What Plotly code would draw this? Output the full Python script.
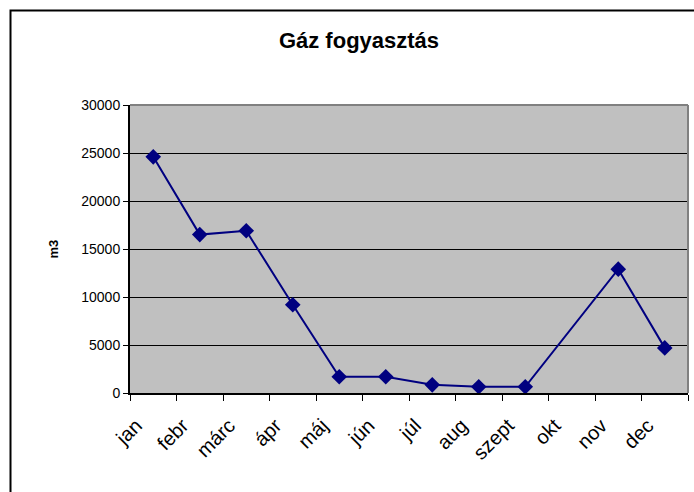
import plotly.graph_objects as go

months = ["jan", "febr", "márc", "ápr", "máj", "jún", "júl", "aug", "szept", "okt", "nov", "dec"]
gas_m3 = [24600, 16500, 16900, 9200, 1700, 1700, 850, 650, 650, None, 12900, 4700]
y_ticks = [0, 5000, 10000, 15000, 20000, 25000, 30000]
y_tick_labels = ["0", "5000", "10000", "15000", "20000", "25000", "30000"]

FONT = "Liberation Sans, Arial, sans-serif"

fig = go.Figure()
fig.add_trace(go.Scatter(
    x=months, y=gas_m3, mode="lines+markers", connectgaps=True,
    line=dict(color="#000080", width=2),
    marker=dict(symbol="diamond", size=12, color="#000080"),
    showlegend=False,
))

W, H = 694, 492
L, R, T, B = 130, 6, 105, 99
pw, ph = W - L - R, H - T - B

def px(x):
    return (x - L) / pw

def py(y):
    return (H - B - y) / ph

fig.update_layout(
    width=W, height=H,
    margin=dict(l=L, r=R, t=T, b=B, autoexpand=False),
    paper_bgcolor="white",
    plot_bgcolor="#C0C0C0",
    font=dict(family=FONT, color="black"),
    title=dict(text="<b>Gáz fogyasztás</b>", font=dict(size=22, family=FONT),
               x=359 / W, xref="container", xanchor="center",
               y=1 - 40 / H, yref="container", yanchor="middle"),
    xaxis=dict(
        type="category", tickson="boundaries", ticks="outside", ticklen=6,
        tickcolor="black", tickangle=-45, tickfont=dict(size=20, family=FONT),
        ticklabelstandoff=11, ticklabelshift=-17,
        showgrid=False, showline=True, linecolor="black", linewidth=2,
        range=[-0.5, 11.5], automargin=False,
    ),
    yaxis=dict(
        range=[0, 30000], tickvals=y_ticks, ticktext=y_tick_labels,
        ticks="outside", ticklen=5,
        tickcolor="black", tickfont=dict(size=14, family=FONT),
        showgrid=True, gridcolor="black", gridwidth=1,
        showline=True, linecolor="black", linewidth=2, zeroline=False,
        automargin=False,
    ),
    annotations=[dict(
        text="<b>m3</b>", textangle=-90, x=px(43), y=py(249),
        xref="paper", yref="paper", showarrow=False,
        font=dict(size=13, family=FONT),
    )],
    shapes=[
        dict(type="line", xref="paper", yref="paper", x0=0, x1=1, y0=1, y1=1,
             line=dict(color="#808080", width=2)),
        dict(type="line", xref="paper", yref="paper", x0=1, x1=1, y0=0, y1=1,
             line=dict(color="#808080", width=2)),
        dict(type="rect", xref="paper", yref="paper",
             x0=px(10.5), x1=px(720), y0=py(520), y1=py(10.5),
             line=dict(color="black", width=2), layer="above"),
    ],
)

fig.write_html("out.html", config={"displayModeBar": False},
               post_script="document.body.style.margin='0';document.body.style.overflow='hidden';")
